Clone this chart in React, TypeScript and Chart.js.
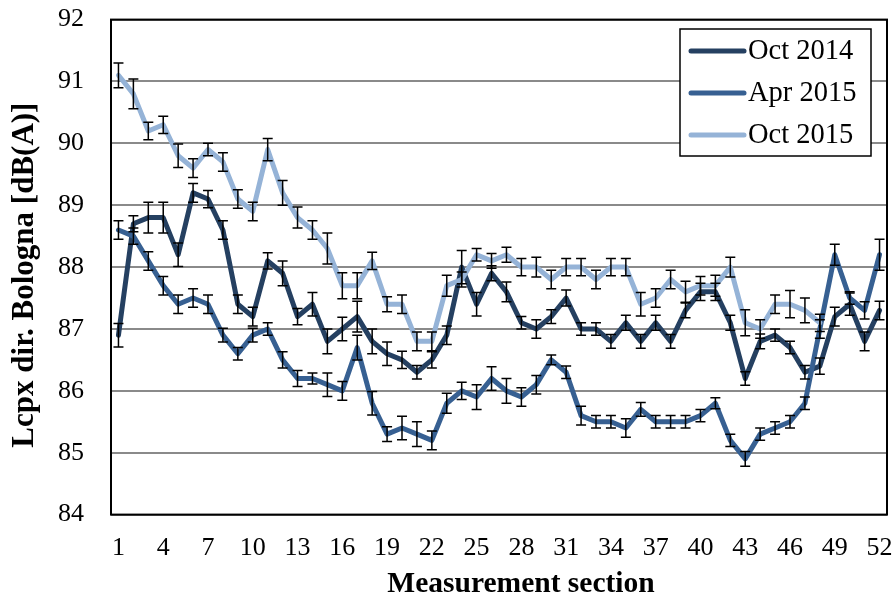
import React, { useEffect, useRef } from "react";
import { Chart, registerables } from "chart.js";

Chart.register(...registerables);

// Measurement sections along the route
const sections = [
  "1", "2", "3", "4", "5", "6", "7", "8", "9", "10", "11", "12", "13",
  "14", "15", "16", "17", "18", "19", "20", "21", "22", "23", "24", "25", "26",
  "27", "28", "29", "30", "31", "32", "33", "34", "35", "36", "37", "38", "39",
  "40", "41", "42", "43", "44", "45", "46", "47", "48", "49", "50", "51", "52",
];

// Lcpx values, dB(A)
const oct2014 = [
  86.9, 88.7, 88.8, 88.8, 88.2, 89.2, 89.1, 88.6, 87.4, 87.2,
  88.1, 87.9, 87.2, 87.4, 86.8, 87.0, 87.2, 86.8, 86.6, 86.5,
  86.3, 86.5, 86.9, 88.0, 87.4, 87.9, 87.6, 87.1, 87.0, 87.2,
  87.5, 87.0, 87.0, 86.8, 87.1, 86.8, 87.1, 86.8, 87.3, 87.6,
  87.6, 87.1, 86.2, 86.8, 86.9, 86.7, 86.3, 86.4, 87.2, 87.4,
  86.8, 87.3,
];
const apr2015 = [
  88.6, 88.5, 88.1, 87.7, 87.4, 87.5, 87.4, 86.9, 86.6, 86.9,
  87.0, 86.5, 86.2, 86.2, 86.1, 86.0, 86.7, 85.8, 85.3, 85.4,
  85.3, 85.2, 85.8, 86.0, 85.9, 86.2, 86.0, 85.9, 86.1, 86.5,
  86.3, 85.6, 85.5, 85.5, 85.4, 85.7, 85.5, 85.5, 85.5, 85.6,
  85.8, 85.2, 84.9, 85.3, 85.4, 85.5, 85.8, 87.0, 88.2, 87.5,
  87.3, 88.2,
];
const oct2015 = [
  91.1, 90.8, 90.2, 90.3, 89.8, 89.6, 89.9, 89.7, 89.1, 88.9,
  89.9, 89.2, 88.8, 88.6, 88.3, 87.7, 87.7, 88.1, 87.4, 87.4,
  86.8, 86.8, 87.7, 87.8, 88.2, 88.1, 88.2, 88.0, 88.0, 87.8,
  88.0, 88.0, 87.8, 88.0, 88.0, 87.4, 87.5, 87.8, 87.6, 87.7,
  87.7, 88.0, 87.1, 87.0, 87.4, 87.4, 87.3, 87.1, null, null,
  null, null,
];

// Half-widths of the error bars, dB(A)
const errOct2014 = [
  0.19, 0.13, 0.25, 0.25, 0.19, 0.15, 0.14, 0.15, 0.15, 0.15,
  0.13, 0.2, 0.13, 0.19, 0.2, 0.19, 0.25, 0.2, 0.19, 0.14,
  0.11, 0.13, 0.15, 0.27, 0.19, 0.12, 0.16, 0.1, 0.15, 0.11,
  0.13, 0.1, 0.1, 0.11, 0.12, 0.11, 0.12, 0.11, 0.12, 0.14,
  0.14, 0.12, 0.11, 0.12, 0.1, 0.1, 0.11, 0.13, 0.15, 0.18,
  0.15, 0.15,
];
const errApr2015 = [
  0.15, 0.13, 0.15, 0.15, 0.15, 0.15, 0.15, 0.11, 0.1, 0.11,
  0.1, 0.13, 0.13, 0.09, 0.19, 0.15, 0.2, 0.19, 0.12, 0.19,
  0.2, 0.15, 0.16, 0.14, 0.2, 0.19, 0.2, 0.15, 0.15, 0.08,
  0.1, 0.15, 0.1, 0.1, 0.15, 0.11, 0.1, 0.1, 0.1, 0.1,
  0.09, 0.1, 0.12, 0.1, 0.1, 0.1, 0.1, 0.15, 0.17, 0.1,
  0.14, 0.25,
];
const errOct2015 = [
  0.2, 0.24, 0.14, 0.14, 0.19, 0.15, 0.1, 0.15, 0.15, 0.15,
  0.18, 0.2, 0.17, 0.15, 0.25, 0.21, 0.21, 0.14, 0.12, 0.15,
  0.15, 0.15, 0.17, 0.12, 0.1, 0.12, 0.12, 0.14, 0.16, 0.15,
  0.14, 0.14, 0.15, 0.14, 0.14, 0.19, 0.15, 0.15, 0.17, 0.15,
  0.17, 0.16, 0.21, 0.15, 0.15, 0.22, 0.2, 0.14, null, null,
  null, null,
];

const seriesNames = ["Oct 2014", "Apr 2015", "Oct 2015"];
const seriesColors = ["#254061", "#376092", "#95B3D7"];

const yMin = 84;
const yMax = 92;
const xTitle = "Measurement section";
const yTitle = "Lcpx dir. Bologna [dB(A)]";

const SERIF = '"Liberation Serif", "Times New Roman", serif';

// Plot frame, error bars, axis titles and the boxed legend
const decorations = {
  id: "decorations",
  afterDatasetsDraw(chart: any) {
    const { ctx, chartArea } = chart;
    const yScale = chart.scales.y;

    ctx.save();
    // error bars
    ctx.strokeStyle = "#000";
    ctx.lineWidth = 1.5;
    chart.data.datasets.forEach((ds: any, di: number) => {
      const meta = chart.getDatasetMeta(di);
      ds.data.forEach((v: number | null, i: number) => {
        const e = ds.errors[i];
        if (v == null || e == null) return;
        const x = meta.data[i].x;
        const top = yScale.getPixelForValue(v + e);
        const bot = yScale.getPixelForValue(v - e);
        ctx.beginPath();
        ctx.moveTo(x, top);
        ctx.lineTo(x, bot);
        ctx.moveTo(x - 5, top);
        ctx.lineTo(x + 5, top);
        ctx.moveTo(x - 5, bot);
        ctx.lineTo(x + 5, bot);
        ctx.stroke();
      });
    });

    // plot frame
    ctx.strokeStyle = "#000";
    ctx.lineWidth = 2;
    ctx.strokeRect(
      chartArea.left,
      chartArea.top,
      chartArea.right - chartArea.left,
      chartArea.bottom - chartArea.top
    );
    ctx.restore();
  },
  afterDraw(chart: any) {
    const { ctx, chartArea } = chart;
    ctx.save();

    // axis titles
    ctx.fillStyle = "#000";
    ctx.font = `bold 29.5px ${SERIF}`;
    ctx.textAlign = "center";
    ctx.textBaseline = "alphabetic";
    ctx.fillText(xTitle, (chartArea.left + chartArea.right) / 2 + 22, 592);

    ctx.save();
    ctx.translate(25, (chartArea.top + chartArea.bottom) / 2 + 8);
    ctx.rotate(-Math.PI / 2);
    ctx.textBaseline = "middle";
    ctx.font = `bold 31px ${SERIF}`;
    ctx.fillText(yTitle, 0, 0);
    ctx.restore();

    // legend
    const lx = 680;
    const ly = 29;
    const lw = 191;
    const lh = 127;
    ctx.fillStyle = "#fff";
    ctx.fillRect(lx, ly, lw, lh);
    ctx.strokeStyle = "#000";
    ctx.lineWidth = 1.5;
    ctx.strokeRect(lx, ly, lw, lh);

    ctx.font = `28.5px ${SERIF}`;
    ctx.textAlign = "left";
    ctx.textBaseline = "middle";
    chart.data.datasets.forEach((ds: any, i: number) => {
      const ry = ly + 22 + i * 42;
      ctx.strokeStyle = ds.borderColor;
      ctx.lineWidth = 5;
      ctx.lineCap = "round";
      ctx.beginPath();
      ctx.moveTo(691, ry);
      ctx.lineTo(744, ry);
      ctx.stroke();
      ctx.fillStyle = "#000";
      ctx.fillText(ds.label, 748, ry + 1);
    });

    ctx.restore();
  },
};

export default function App() {
  const canvasRef = useRef<HTMLCanvasElement | null>(null);

  useEffect(() => {
    const canvas = canvasRef.current;
    if (!canvas) return;

    const seriesValues = [oct2014, apr2015, oct2015];
    const seriesErrors = [errOct2014, errApr2015, errOct2015];

    const chart = new Chart(canvas, {
      type: "line",
      data: {
        labels: sections,
        datasets: seriesNames.map((name, i) => ({
          label: name,
          data: seriesValues[i],
          errors: seriesErrors[i],
          borderColor: seriesColors[i],
          backgroundColor: seriesColors[i],
          borderWidth: 5,
          borderJoinStyle: "round",
          borderCapStyle: "round",
          pointRadius: 0,
          pointHoverRadius: 0,
          tension: 0,
          fill: false,
          spanGaps: false,
          order: seriesNames.length - i,
        })) as any,
      },
      options: {
        responsive: false,
        animation: false,
        devicePixelRatio: 1,
        events: [],
        layout: { padding: { top: 19, right: 9, left: 0, bottom: 0 } },
        plugins: {
          legend: { display: false },
          tooltip: { enabled: false },
          title: { display: false },
        },
        scales: {
          x: {
            type: "category",
            offset: true,
            grid: { display: false, drawTicks: true, tickLength: 16 },
            border: { display: false },
            ticks: {
              autoSkip: false,
              maxRotation: 0,
              minRotation: 0,
              padding: 2,
              color: "#000",
              font: { family: SERIF, size: 26 },
              callback: (_v: any, i: number) => (i % 3 === 0 ? sections[i] : ""),
            },
            afterFit: (scale: any) => {
              scale.height = 88.4;
            },
          },
          y: {
            min: yMin,
            max: yMax,
            grid: {
              color: "#8a8a8a",
              lineWidth: 2,
              drawTicks: true,
              tickLength: 23,
              tickColor: "rgba(0,0,0,0)",
            },
            border: { display: false },
            ticks: {
              stepSize: 1,
              padding: 4,
              color: "#000",
              font: { family: SERIF, size: 26 },
            },
            afterFit: (scale: any) => {
              scale.width = 111;
            },
          },
        },
      },
      plugins: [decorations],
    });

    return () => chart.destroy();
  }, []);

  return (
    <div
      style={{
        position: "absolute",
        left: 0,
        top: 0,
        width: 896,
        height: 603,
        background: "#fff",
      }}
    >
      <canvas
        ref={canvasRef}
        width={896}
        height={603}
        style={{ display: "block", width: 896, height: 603 }}
      />
    </div>
  );
}
